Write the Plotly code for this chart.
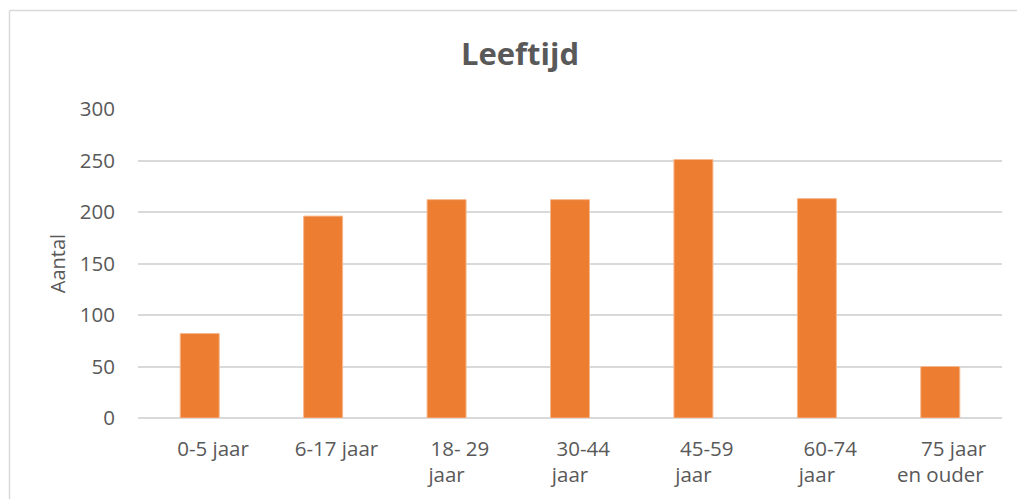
import plotly.graph_objects as go

# Leeftijdsgroepen en aantallen
categorieen = ["0-5 jaar", "6-17 jaar", "18- 29 jaar", "30-44 jaar",
               "45-59 jaar", "60-74 jaar", "75 jaar en ouder"]
aantallen = [82, 196, 212, 212, 251, 213, 50]
# As-labels zoals ze op de x-as staan (met regelafbreking)
pad = "\u00a0" * 5
labels = [pad + "0-5 jaar", pad + "6-17 jaar", pad + "18- 29<br>jaar",
          pad + "30-44<br>jaar", pad + "45-59<br>jaar", pad + "60-74<br>jaar",
          pad + "75 jaar<br>en ouder"]
y_ticks = [0, 50, 100, 150, 200, 250, 300]

GRIJS = "#595959"
LIJN = "#D9D9D9"
FONT = "Open Sans"

fig = go.Figure(go.Bar(
    x=categorieen,
    y=aantallen,
    marker=dict(color="#ED7D31", line=dict(color="#F6B98F", width=1)),
    hoverinfo="x+y",
))

L, R, T, B = 138, 15, 109, 81
W, H = 1017, 499
plot_w = W - L - R
plot_h = H - T - B

fig.update_layout(
    width=W, height=H,
    margin=dict(l=L, r=R, t=T, b=B),
    paper_bgcolor="white", plot_bgcolor="white",
    bargap=0.684,
    showlegend=False,
    font=dict(family=FONT, color=GRIJS, size=20),
    title=dict(text="<b>Leeftijd</b>", x=520 / W, xref="container",
               xanchor="center", y=1 - 54 / H, yref="container", yanchor="middle",
               font=dict(family=FONT, size=31, color=GRIJS)),
    xaxis=dict(
        tickmode="array", tickvals=categorieen, ticktext=labels,
        showgrid=False, showline=False, zeroline=False, ticks="",
        tickfont=dict(size=20.5, color=GRIJS), ticklabelstandoff=16,
        fixedrange=True,
    ),
    yaxis=dict(
        range=[0, 300], tickmode="array", tickvals=y_ticks,
        showgrid=True, gridcolor=LIJN, gridwidth=1.5,
        zeroline=True, zerolinecolor=LIJN, zerolinewidth=1.5,
        showline=False, ticks="",
        tickfont=dict(size=20.5, color=GRIJS), ticklabelstandoff=22,
        title=dict(text="Aantal", font=dict(size=20, color=GRIJS), standoff=8),
        fixedrange=True,
    ),
)

# Rand rond de grafiek (links en boven zichtbaar)
x_links = (9.5 - L) / plot_w
y_boven = (H - B - 10.5) / plot_h
fig.add_shape(type="line", xref="paper", yref="paper",
              x0=x_links, x1=x_links, y0=y_boven, y1=-1,
              line=dict(color=LIJN, width=1.5))
fig.add_shape(type="line", xref="paper", yref="paper",
              x0=x_links, x1=1.2, y0=y_boven, y1=y_boven,
              line=dict(color=LIJN, width=1.5))

fig.write_html("out.html")
